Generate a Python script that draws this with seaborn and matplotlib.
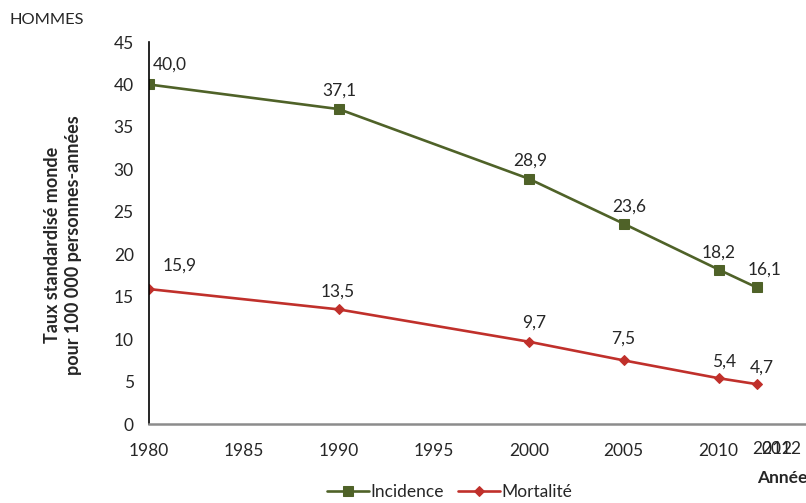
import pandas as pd
import seaborn as sns
import matplotlib.pyplot as plt
import matplotlib.transforms as mtransforms

# data
annees = [1980, 1990, 2000, 2005, 2010, 2012]
incidence = [40.0, 37.1, 28.9, 23.6, 18.2, 16.1]
mortalite = [15.9, 13.5, 9.7, 7.5, 5.4, 4.7]
xticks = [1980, 1985, 1990, 1995, 2000, 2005, 2010]

# label offsets (points) for the value labels
off_inc = [(15, 14), (0, 13), (1, 13), (4, 12), (0, 12), (6, 13)]
off_mort = [(22, 17), (-1, 13), (4, 14), (0, 16), (4, 12), (4, 12)]

green = "#4F6228"
red = "#C0302B"
fs = 12.5

sns.set_style("white")
plt.rcParams["font.family"] = ["Lato", "DejaVu Sans"]

df = pd.DataFrame({"annee": annees, "Incidence": incidence, "Mortalité": mortalite})

fig = plt.figure(figsize=(8.06, 5.03), dpi=100)
ax = fig.add_axes([0.1849, 0.157, 0.815, 0.7594])

sns.lineplot(data=df, x="annee", y="Incidence", ax=ax, color=green, marker="s",
             markersize=7, markeredgecolor=green, linewidth=1.9, label="Incidence")
sns.lineplot(data=df, x="annee", y="Mortalité", ax=ax, color=red, marker="D",
             markersize=5.5, markeredgecolor=red, linewidth=1.9, label="Mortalité")

for x, y, o in zip(annees, incidence, off_inc):
    ax.annotate(f"{y:.1f}".replace(".", ","), (x, y), xytext=o, textcoords="offset points",
                ha="center", va="center", fontsize=fs)
for x, y, o in zip(annees, mortalite, off_mort):
    ax.annotate(f"{y:.1f}".replace(".", ","), (x, y), xytext=o, textcoords="offset points",
                ha="center", va="center", fontsize=fs)

ax.set_xlim(1980, 2014.6)
ax.set_ylim(0, 45)
ax.set_yticks(range(0, 50, 5))
ax.set_xticks(xticks)
ax.tick_params(axis="both", length=0, labelsize=fs)
ax.tick_params(axis="y", pad=11)
ax.tick_params(axis="x", pad=14)
ax.set_xlabel("")
ax.set_ylabel("")

# overlapping 2012 labels, as in the original
trans = mtransforms.blended_transform_factory(ax.transData, ax.transAxes)
for xp in (2012.8, 2013.3):
    ax.text(xp, -0.044, "2012", transform=trans, ha="center", va="top", fontsize=fs)

for s in ["top", "right"]:
    ax.spines[s].set_visible(False)
ax.spines["left"].set_color("black")
ax.spines["left"].set_linewidth(1.2)
ax.spines["bottom"].set_color("#8C8C8C")
ax.spines["bottom"].set_linewidth(1.8)

ax.get_legend().remove()
h, l = ax.get_legend_handles_labels()
fig.legend(h, l, loc="center", bbox_to_anchor=(0.558, 0.022), ncol=2, frameon=False,
           fontsize=fs, handlelength=2.4, handletextpad=0.1, columnspacing=0.8)

fig.text(0.012, 0.96, "HOMMES", fontsize=11.8, va="center", ha="left")
fig.text(0.078, 0.513, "Taux standardisé monde\npour 100 000 personnes-années",
         rotation=90, ha="center", va="center", fontsize=13, fontweight="bold",
         linespacing=1.25)
fig.text(0.939, 0.05, "Année", fontsize=12.5, fontweight="bold", ha="left", va="center")

fig.savefig("out.png", dpi=100)
